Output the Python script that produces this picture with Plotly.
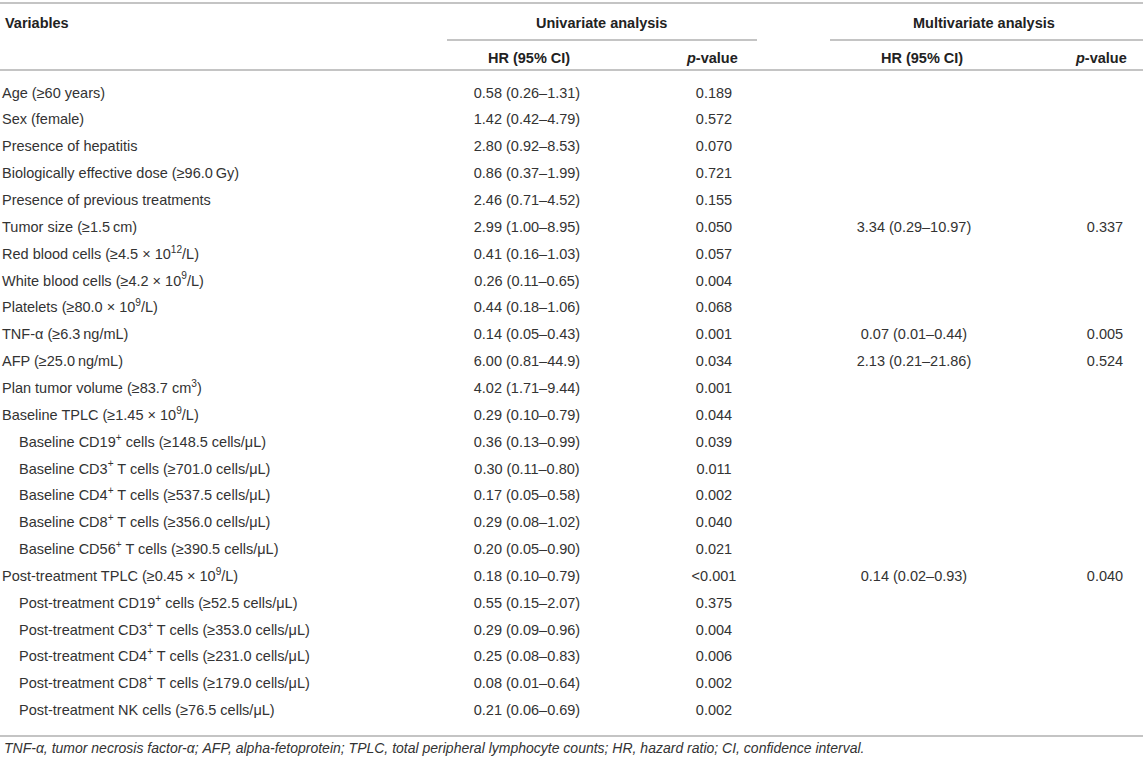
import plotly.graph_objects as go

# Données du tableau (Cox : analyses univariée et multivariée)
variables = [
    "Age (≥60 years)",
    "Sex (female)",
    "Presence of hepatitis",
    "Biologically effective dose (≥96.0\u2009Gy)",
    "Presence of previous treatments",
    "Tumor size (≥1.5\u2009cm)",
    "Red blood cells (≥4.5 × 10<sup>12</sup>/L)",
    "White blood cells (≥4.2 × 10<sup>9</sup>/L)",
    "Platelets (≥80.0 × 10<sup>9</sup>/L)",
    "TNF-α (≥6.3\u2009ng/mL)",
    "AFP (≥25.0\u2009ng/mL)",
    "Plan tumor volume (≥83.7 cm<sup>3</sup>)",
    "Baseline TPLC (≥1.45 × 10<sup>9</sup>/L)",
    "Baseline CD19<sup>+</sup> cells (≥148.5 cells/μL)",
    "Baseline CD3<sup>+</sup> T cells (≥701.0 cells/μL)",
    "Baseline CD4<sup>+</sup> T cells (≥537.5 cells/μL)",
    "Baseline CD8<sup>+</sup> T cells (≥356.0 cells/μL)",
    "Baseline CD56<sup>+</sup> T cells (≥390.5 cells/μL)",
    "Post-treatment TPLC (≥0.45 × 10<sup>9</sup>/L)",
    "Post-treatment CD19<sup>+</sup> cells (≥52.5 cells/μL)",
    "Post-treatment CD3<sup>+</sup> T cells (≥353.0 cells/μL)",
    "Post-treatment CD4<sup>+</sup> T cells (≥231.0 cells/μL)",
    "Post-treatment CD8<sup>+</sup> T cells (≥179.0 cells/μL)",
    "Post-treatment NK cells (≥76.5 cells/μL)",
]
indented = [False] * 13 + [True] * 5 + [False] + [True] * 5

uni_hr = [
    "0.58 (0.26–1.31)", "1.42 (0.42–4.79)", "2.80 (0.92–8.53)", "0.86 (0.37–1.99)",
    "2.46 (0.71–4.52)", "2.99 (1.00–8.95)", "0.41 (0.16–1.03)", "0.26 (0.11–0.65)",
    "0.44 (0.18–1.06)", "0.14 (0.05–0.43)", "6.00 (0.81–44.9)", "4.02 (1.71–9.44)",
    "0.29 (0.10–0.79)", "0.36 (0.13–0.99)", "0.30 (0.11–0.80)", "0.17 (0.05–0.58)",
    "0.29 (0.08–1.02)", "0.20 (0.05–0.90)", "0.18 (0.10–0.79)", "0.55 (0.15–2.07)",
    "0.29 (0.09–0.96)", "0.25 (0.08–0.83)", "0.08 (0.01–0.64)", "0.21 (0.06–0.69)",
]
uni_p = [
    "0.189", "0.572", "0.070", "0.721", "0.155", "0.050", "0.057", "0.004",
    "0.068", "0.001", "0.034", "0.001", "0.044", "0.039", "0.011", "0.002",
    "0.040", "0.021", "<0.001", "0.375", "0.004", "0.006", "0.002", "0.002",
]
multi_hr = [""] * 24
multi_p = [""] * 24
multi_hr[5], multi_p[5] = "3.34 (0.29–10.97)", "0.337"
multi_hr[9], multi_p[9] = "0.07 (0.01–0.44)", "0.005"
multi_hr[10], multi_p[10] = "2.13 (0.21–21.86)", "0.524"
multi_hr[18], multi_p[18] = "0.14 (0.02–0.93)", "0.040"

footnote = ("TNF-α, tumor necrosis factor-α; AFP, alpha-fetoprotein; TPLC, total peripheral "
            "lymphocyte counts; HR, hazard ratio; CI, confidence interval.")

# Mise en page (pixels horizontaux, unités de ligne verticales)
W, H = 1143, 759
row0, step = 94, 26.85


def ry(px):
    return (px - row0) / step


col_var = 2
indent = 17
col_uhr, col_up = 527, 714
col_mhr, col_mp = 914, 1105
font = "Liberation Sans, Arial, sans-serif"
fsize = 14.5
txt = "#333333"
rule = "#c4c4c4"

rows = list(range(len(variables)))
fig = go.Figure()

fig.add_trace(go.Scatter(
    x=[col_var + (indent if f else 0) for f in indented], y=rows, text=variables,
    mode="text", textposition="middle right",
    textfont=dict(family=font, size=fsize, color=txt), hoverinfo="skip",
))
for col, vals in [(col_uhr, uni_hr), (col_up, uni_p), (col_mhr, multi_hr), (col_mp, multi_p)]:
    fig.add_trace(go.Scatter(
        x=[col] * len(vals), y=rows, text=vals, mode="text", textposition="middle center",
        textfont=dict(family=font, size=fsize, color=txt), hoverinfo="skip",
    ))

# En-têtes
head = dict(family=font, size=fsize, color="#222222")
headers = [
    (3, 23, "<b>Variables</b>", "left"),
    (601, 23, "<b>Univariate analysis</b>", "center"),
    (984, 23, "<b>Multivariate analysis</b>", "center"),
    (col_uhr + 2, 58, "<b>HR (95% CI)</b>", "center"),
    (col_up - 2, 58, "<b><i>p</i>-value</b>", "center"),
    (col_mhr + 8, 58, "<b>HR (95% CI)</b>", "center"),
    (col_mp - 4, 58, "<b><i>p</i>-value</b>", "center"),
]
for x, y, t, anc in headers:
    fig.add_annotation(x=x, y=ry(y), text=t, showarrow=False, xanchor=anc,
                       yanchor="middle", font=head)
fig.add_annotation(x=2, y=ry(748), text="<i>" + footnote + "</i>", showarrow=False,
                   xanchor="left", yanchor="middle",
                   font=dict(family=font, size=14, color=txt))

# Filets horizontaux
for x0, x1, y in [(0, W, 3), (447, 757, 40), (830, W, 40), (0, W, 70), (0, W, 736)]:
    fig.add_shape(type="line", x0=x0, x1=x1, y0=ry(y), y1=ry(y),
                  line=dict(color=rule, width=2))

fig.update_layout(
    width=W, height=H, margin=dict(l=0, r=0, t=0, b=0),
    plot_bgcolor="white", paper_bgcolor="white", showlegend=False,
    xaxis=dict(range=[0, W], visible=False, fixedrange=True),
    yaxis=dict(range=[ry(H), ry(0)], visible=False, fixedrange=True),
)

# Marge du <body> supprimée pour que la figure occupe toute la fenêtre
fig.write_html("out.html", config={"displayModeBar": False},
               post_script="document.body.style.margin='0px';"
                           "document.body.style.overflow='hidden';")
